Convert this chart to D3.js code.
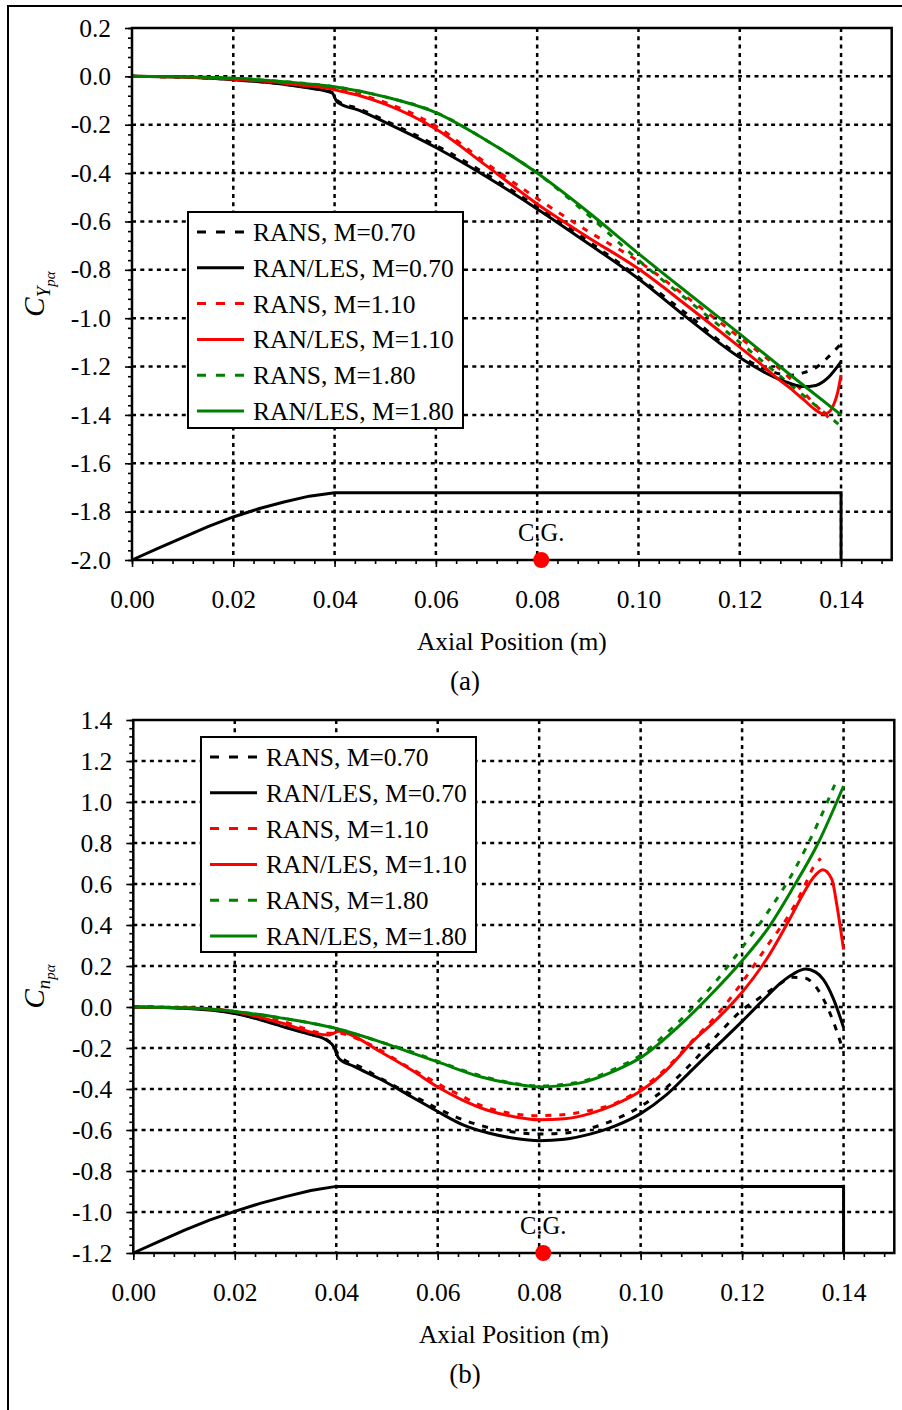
<!DOCTYPE html>
<html><head><meta charset="utf-8">
<script src="https://cdn.jsdelivr.net/npm/d3@7"></script>
<style>
body{margin:0;background:#fff}
svg text{font-family:"Liberation Serif","Times New Roman",serif;fill:#000}
</style>
</head><body>
<svg id="chart" width="902" height="1410"></svg>
<script>
// ---------------- DATA ----------------
const xTickValues = [0.00, 0.02, 0.04, 0.06, 0.08, 0.10, 0.12, 0.14];
const cyTickValues = [-2.0, -1.8, -1.6, -1.4, -1.2, -1.0, -0.8, -0.6, -0.4, -0.2, 0.0, 0.2];
const cnTickValues = [-1.2, -1.0, -0.8, -0.6, -0.4, -0.2, 0.0, 0.2, 0.4, 0.6, 0.8, 1.0, 1.2, 1.4];
const legendLabels = ["RANS, M=0.70", "RAN/LES, M=0.70", "RANS, M=1.10", "RAN/LES, M=1.10", "RANS, M=1.80", "RAN/LES, M=1.80"];
const xAxisTitle = "Axial Position (m)";
const cgLabel = "C.G.";
const cgX = 0.0808;

// Side-force slope C_Y_pα (panel a)
const cyRans070 = [[0,0],[0.01,-0.003],[0.02,-0.013],[0.03,-0.032],[0.035,-0.047],[0.0395,-0.066],[0.0405,-0.1],[0.045,-0.135],[0.05,-0.183],[0.06,-0.285],[0.07,-0.405],[0.08,-0.54],[0.09,-0.68],[0.10,-0.83],[0.11,-0.99],[0.12,-1.155],[0.125,-1.21],[0.13,-1.236],[0.1325,-1.226],[0.135,-1.205],[0.1375,-1.16],[0.14,-1.105]];
const cyLes070  = [[0,0],[0.01,-0.003],[0.02,-0.014],[0.03,-0.033],[0.035,-0.048],[0.0395,-0.068],[0.0405,-0.106],[0.045,-0.142],[0.05,-0.19],[0.06,-0.294],[0.07,-0.415],[0.08,-0.548],[0.09,-0.69],[0.10,-0.837],[0.11,-1.005],[0.12,-1.163],[0.125,-1.225],[0.13,-1.27],[0.1325,-1.283],[0.135,-1.278],[0.1375,-1.245],[0.14,-1.18]];
const cyRans110 = [[0,0],[0.01,-0.003],[0.02,-0.012],[0.03,-0.027],[0.035,-0.038],[0.0395,-0.05],[0.0405,-0.054],[0.045,-0.075],[0.05,-0.108],[0.06,-0.205],[0.07,-0.36],[0.08,-0.505],[0.09,-0.64],[0.10,-0.765],[0.11,-0.92],[0.12,-1.08],[0.125,-1.16],[0.13,-1.25],[0.1325,-1.305],[0.135,-1.36],[0.1375,-1.41]];
const cyLes110  = [[0,0],[0.01,-0.003],[0.02,-0.012],[0.03,-0.028],[0.035,-0.04],[0.0395,-0.052],[0.0405,-0.058],[0.045,-0.08],[0.05,-0.115],[0.06,-0.218],[0.07,-0.37],[0.08,-0.528],[0.09,-0.665],[0.10,-0.796],[0.11,-0.955],[0.12,-1.12],[0.125,-1.205],[0.1275,-1.25],[0.13,-1.29],[0.1325,-1.335],[0.135,-1.38],[0.1365,-1.396],[0.1375,-1.39],[0.1385,-1.36],[0.1393,-1.31],[0.14,-1.235]];
const cyRans180 = [[0,0],[0.01,-0.002],[0.02,-0.008],[0.03,-0.022],[0.04,-0.043],[0.05,-0.085],[0.06,-0.149],[0.07,-0.265],[0.08,-0.4],[0.09,-0.572],[0.10,-0.76],[0.11,-0.93],[0.12,-1.1],[0.13,-1.275],[0.14,-1.447]];
const cyLes180  = [[0,0],[0.01,-0.002],[0.02,-0.008],[0.03,-0.022],[0.04,-0.043],[0.05,-0.085],[0.06,-0.15],[0.07,-0.265],[0.08,-0.4],[0.09,-0.56],[0.10,-0.733],[0.11,-0.9],[0.12,-1.065],[0.13,-1.235],[0.14,-1.40]];

// Yawing-moment slope C_n_pα (panel b)
const cnRans070 = [[0,0],[0.01,-0.005],[0.02,-0.03],[0.025,-0.06],[0.03,-0.098],[0.035,-0.133],[0.038,-0.158],[0.0395,-0.19],[0.0405,-0.235],[0.045,-0.295],[0.05,-0.365],[0.055,-0.43],[0.06,-0.495],[0.065,-0.55],[0.07,-0.588],[0.075,-0.61],[0.08,-0.62],[0.085,-0.615],[0.09,-0.592],[0.095,-0.548],[0.10,-0.485],[0.105,-0.395],[0.11,-0.275],[0.115,-0.14],[0.12,-0.015],[0.1238,0.05],[0.127,0.105],[0.13,0.145],[0.1325,0.14],[0.1345,0.1],[0.136,0.04],[0.1387,-0.12],[0.14,-0.22]];
const cnLes070  = [[0,0],[0.01,-0.006],[0.02,-0.032],[0.025,-0.062],[0.03,-0.1],[0.035,-0.135],[0.038,-0.16],[0.0395,-0.194],[0.0405,-0.25],[0.0435,-0.29],[0.049,-0.356],[0.055,-0.44],[0.06,-0.51],[0.065,-0.575],[0.07,-0.615],[0.075,-0.64],[0.08,-0.652],[0.085,-0.645],[0.09,-0.62],[0.095,-0.58],[0.10,-0.52],[0.105,-0.43],[0.11,-0.31],[0.115,-0.19],[0.12,-0.07],[0.125,0.055],[0.1275,0.115],[0.13,0.16],[0.1325,0.185],[0.1345,0.17],[0.136,0.135],[0.138,0.04],[0.14,-0.1]];
const cnRans110 = [[0,0],[0.01,-0.004],[0.02,-0.022],[0.03,-0.075],[0.038,-0.128],[0.0405,-0.128],[0.0444,-0.158],[0.048,-0.2],[0.0513,-0.25],[0.0547,-0.3],[0.058,-0.345],[0.0612,-0.39],[0.0648,-0.435],[0.068,-0.475],[0.0717,-0.505],[0.0753,-0.522],[0.079,-0.53],[0.083,-0.528],[0.0865,-0.52],[0.09,-0.505],[0.095,-0.47],[0.10,-0.4],[0.105,-0.3],[0.11,-0.17],[0.115,-0.04],[0.12,0.12],[0.125,0.3],[0.13,0.48],[0.1325,0.6],[0.134,0.68],[0.1355,0.725]];
const cnLes110  = [[0,0],[0.01,-0.004],[0.02,-0.023],[0.029,-0.077],[0.0385,-0.137],[0.0395,-0.128],[0.0405,-0.118],[0.042,-0.127],[0.0487,-0.218],[0.055,-0.31],[0.06,-0.39],[0.065,-0.455],[0.07,-0.505],[0.075,-0.535],[0.08,-0.55],[0.085,-0.545],[0.09,-0.52],[0.095,-0.475],[0.10,-0.41],[0.105,-0.31],[0.11,-0.175],[0.115,-0.06],[0.12,0.072],[0.125,0.24],[0.1294,0.43],[0.132,0.55],[0.134,0.63],[0.1359,0.67],[0.1377,0.623],[0.1387,0.494],[0.14,0.28]];
const cnRans180 = [[0,0],[0.01,-0.004],[0.02,-0.022],[0.029,-0.053],[0.04,-0.105],[0.0487,-0.17],[0.055,-0.22],[0.06,-0.265],[0.0684,-0.335],[0.075,-0.372],[0.08,-0.385],[0.088,-0.365],[0.095,-0.3],[0.10,-0.235],[0.105,-0.13],[0.11,-0.01],[0.115,0.13],[0.12,0.29],[0.125,0.46],[0.13,0.655],[0.135,0.9],[0.1387,1.11]];
const cnLes180  = [[0,0],[0.01,-0.004],[0.02,-0.022],[0.029,-0.053],[0.04,-0.105],[0.0487,-0.17],[0.055,-0.225],[0.06,-0.268],[0.0684,-0.34],[0.075,-0.375],[0.08,-0.39],[0.0881,-0.37],[0.095,-0.31],[0.10,-0.247],[0.1077,-0.09],[0.1143,0.072],[0.12,0.226],[0.125,0.38],[0.13,0.58],[0.135,0.8],[0.14,1.078]];

// Body outline (projectile silhouette) drawn in each panel
const bodyX   = [0, 0.005, 0.01, 0.015, 0.02, 0.025, 0.03, 0.035, 0.04, 0.14, 0.14];
const bodyCyY = [-2.0, -1.953, -1.907, -1.862, -1.822, -1.788, -1.760, -1.736, -1.722, -1.722, -2.0];
const bodyCnY = [-1.2, -1.145, -1.09, -1.04, -0.997, -0.958, -0.925, -0.895, -0.875, -0.875, -1.2];

// ---------------- STYLE / LAYOUT ----------------
const seriesStyle = [
  {color:"#000000", dashed:true},
  {color:"#000000", dashed:false},
  {color:"#ff0000", dashed:true},
  {color:"#ff0000", dashed:false},
  {color:"#008000", dashed:true},
  {color:"#008000", dashed:false}
];
const FONT = 25.5;
const svg = d3.select("#chart");

// outer frame
svg.append("rect").attr("x",8).attr("y",6).attr("width",910).attr("height",1420)
  .attr("fill","none").attr("stroke","#000").attr("stroke-width",2);

function drawPanel(cfg){
  const x = d3.scaleLinear().domain([0,0.15]).range([cfg.left,cfg.right]);
  const y = d3.scaleLinear().domain(cfg.yDomain).range([cfg.bottom,cfg.top]);
  const g = svg.append("g");

  // grid
  const gy = cfg.yTicks.filter(v => v > cfg.yDomain[0]+1e-9 && v < cfg.yDomain[1]-1e-9);
  g.selectAll(".hg").data(gy).enter().append("line")
    .attr("x1",cfg.left).attr("x2",cfg.right).attr("y1",d=>y(d)).attr("y2",d=>y(d))
    .attr("stroke","#000").attr("stroke-width",2.5).attr("stroke-dasharray","4,4.3");
  g.selectAll(".vg").data(xTickValues.filter(v=>v>0)).enter().append("line")
    .attr("y1",cfg.top).attr("y2",cfg.bottom).attr("x1",d=>x(d)).attr("x2",d=>x(d))
    .attr("stroke","#000").attr("stroke-width",2.5).attr("stroke-dasharray","4,4.3");

  // minor ticks
  const yMinor = d3.range(cfg.yDomain[0], cfg.yDomain[1]+1e-9, 0.04);
  const xMinor = d3.range(0, 0.1501, 0.004);
  const axStyle = sel => { sel.select(".domain").remove(); sel.selectAll("line").attr("stroke","#000").attr("stroke-width",1.6); };
  g.append("g").attr("transform",`translate(${cfg.left},0)`)
    .call(d3.axisLeft(y).tickValues(yMinor).tickSize(4).tickFormat(""))
    .call(axStyle);
  g.append("g").attr("transform",`translate(0,${cfg.bottom})`)
    .call(d3.axisBottom(x).tickValues(xMinor).tickSize(4).tickFormat(""))
    .call(axStyle);
  // major ticks + labels
  const ya = g.append("g").attr("transform",`translate(${cfg.left},0)`)
    .call(d3.axisLeft(y).tickValues(cfg.yTicks).tickSize(7).tickPadding(14).tickFormat(d3.format(".1f")))
    .call(axStyle);
  ya.selectAll("text").attr("font-size",FONT).attr("font-family","Liberation Serif").attr("fill","#000")
    .text(d => d3.format(".1f")(d).replace("−","-"));
  const xa = g.append("g").attr("transform",`translate(0,${cfg.bottom})`)
    .call(d3.axisBottom(x).tickValues(xTickValues).tickSize(7).tickPadding(23).tickFormat(d3.format(".2f")))
    .call(axStyle);
  xa.selectAll("text").attr("font-size",FONT).attr("font-family","Liberation Serif").attr("fill","#000");

  // body outline
  const bodyPts = bodyX.map((v,i)=>[v,cfg.bodyY[i]]);
  g.append("path").datum(bodyPts)
    .attr("d", d3.line().x(d=>x(d[0])).y(d=>y(d[1])))
    .attr("fill","none").attr("stroke","#000").attr("stroke-width",3);

  // series
  const line = d3.line().x(d=>x(d[0])).y(d=>y(d[1])).curve(d3.curveMonotoneX);
  const order = [0,2,4,1,3,5];
  order.forEach(i=>{
    g.append("path").datum(cfg.series[i]).attr("d",line)
      .attr("fill","none").attr("stroke",seriesStyle[i].color).attr("stroke-width",3)
      .attr("stroke-dasharray",seriesStyle[i].dashed?"6,8":null)
      .attr("stroke-linejoin","round");
  });

  // frame
  g.append("rect").attr("x",cfg.left).attr("y",cfg.top)
    .attr("width",cfg.right-cfg.left).attr("height",cfg.bottom-cfg.top)
    .attr("fill","none").attr("stroke","#000").attr("stroke-width",2.5);

  // C.G.
  g.append("text").attr("x",x(cgX)).attr("y",cfg.bottom-19).attr("text-anchor","middle")
    .attr("font-size",24.5).text(cgLabel);
  g.append("circle").attr("cx",x(cgX)).attr("cy",cfg.bottom).attr("r",8).attr("fill","#ff0000");

  // legend
  const L = cfg.legend;
  g.append("rect").attr("x",L.x).attr("y",L.y).attr("width",L.w).attr("height",L.h)
    .attr("fill","#fff").attr("stroke","#000").attr("stroke-width",2);
  legendLabels.forEach((lab,i)=>{
    const cy = L.y + 20 + i*35.8;
    g.append("line").attr("x1",L.x+9).attr("x2",L.x+56).attr("y1",cy).attr("y2",cy)
      .attr("stroke",seriesStyle[i].color).attr("stroke-width",3)
      .attr("stroke-dasharray",seriesStyle[i].dashed?"9,10":null);
    g.append("text").attr("x",L.x+65).attr("y",cy+9).attr("font-size",FONT).text(lab);
  });

  // axis titles
  g.append("text").attr("x",(cfg.left+cfg.right)/2).attr("y",cfg.bottom+90)
    .attr("text-anchor","middle").attr("font-size",FONT).text(xAxisTitle);
  g.append("text").attr("x",465).attr("y",cfg.bottom+130)
    .attr("text-anchor","middle").attr("font-size",27).text(cfg.panelLabel);

  // y title (rotated)
  const yt = g.append("text").attr("transform",`translate(44,${(cfg.top+cfg.bottom)/2}) rotate(-90)`)
    .attr("text-anchor","middle");
  yt.append("tspan").attr("font-size",29).attr("font-style","italic").text("C");
  cfg.yTitleSub.forEach(s=>{
    yt.append("tspan").attr("font-size",s.size).attr("font-style",s.italic?"italic":"normal")
      .attr("dy",s.dy).text(s.t);
  });
}

drawPanel({
  left:132, right:891.7, top:28, bottom:560, yDomain:[-2.0,0.2], yTicks:cyTickValues,
  bodyY:bodyCyY, series:[cyRans070,cyLes070,cyRans110,cyLes110,cyRans180,cyLes180],
  legend:{x:188,y:212,w:275,h:216}, panelLabel:"(a)",
  yTitleSub:[{t:"Y",size:19,italic:true,dy:6},{t:"pα",size:15,italic:true,dy:5}]
});
drawPanel({
  left:133.3, right:894.3, top:720, bottom:1253, yDomain:[-1.2,1.4], yTicks:cnTickValues,
  bodyY:bodyCnY, series:[cnRans070,cnLes070,cnRans110,cnLes110,cnRans180,cnLes180],
  legend:{x:201,y:737,w:275,h:215}, panelLabel:"(b)",
  yTitleSub:[{t:"n",size:19,italic:true,dy:6},{t:"pα",size:15,italic:true,dy:5}]
});
</script>
</body></html>
